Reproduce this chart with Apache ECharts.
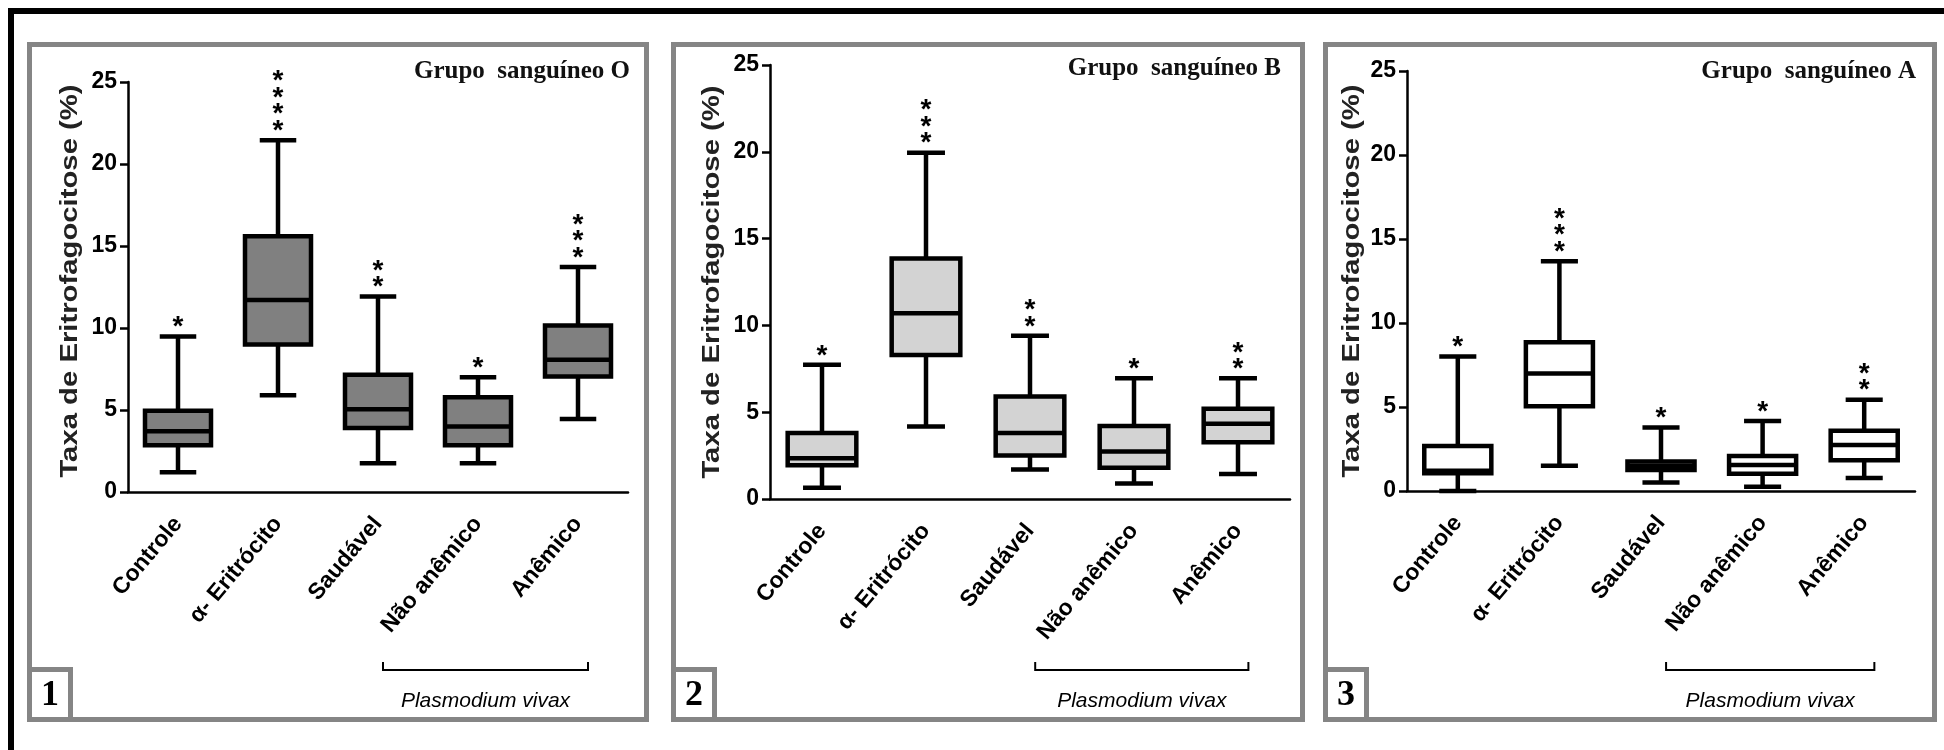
<!DOCTYPE html>
<html><head><meta charset="utf-8">
<script src="https://cdn.jsdelivr.net/npm/echarts@6/dist/echarts.min.js"></script>
<style>html,body{margin:0;padding:0;background:#fff}#c{width:1944px;height:750px}</style>
</head><body><div id="c"></div>
<script>
// ---------- data ----------
const categories = ['Controle', 'α- Eritrócito', 'Saudável', 'Não anêmico', 'Anêmico'];
const yTickValues = [0, 5, 10, 15, 20, 25];
const groupTitles = ['Grupo  sanguíneo O', 'Grupo  sanguíneo B', 'Grupo  sanguíneo A'];
const panelNumbers = ['1', '2', '3'];
const yAxisTitle = 'Taxa de Eritrofagocitose (%)';
const bracketLabel = 'Plasmodium vivax';

// Grupo sanguíneo O
const oLow    = [1.2, 5.9, 1.75, 1.75, 4.45];
const oQ1     = [2.85, 9.0, 3.9, 2.85, 7.05];
const oMedian = [3.7, 11.7, 5.05, 4.0, 8.07];
const oQ3     = [4.95, 15.6, 7.15, 5.78, 10.15];
const oHigh   = [9.48, 21.45, 11.92, 7.0, 13.72];
const oStars  = [1, 4, 2, 1, 3];

// Grupo sanguíneo B
const bLow    = [0.65, 4.17, 1.7, 0.9, 1.44];
const bQ1     = [1.95, 8.3, 2.5, 1.8, 3.27];
const bMedian = [2.35, 10.7, 3.8, 2.73, 4.33];
const bQ3     = [3.8, 13.85, 5.9, 4.2, 5.2];
const bHigh   = [7.73, 19.95, 9.4, 6.95, 6.95];
const bStars  = [1, 3, 2, 1, 2];

// Grupo sanguíneo A
const aLow    = [0, 1.5, 0.5, 0.25, 0.78];
const aQ1     = [1.05, 5.05, 1.25, 1.03, 1.83];
const aMedian = [1.2, 7.0, 1.5, 1.55, 2.74];
const aQ3     = [2.68, 8.85, 1.75, 2.09, 3.58];
const aHigh   = [8.0, 13.68, 3.78, 4.17, 5.43];
const aStars  = [1, 3, 1, 1, 2];

// ---------- layout ----------
const SANS = '"Liberation Sans", Arial, sans-serif';
const SERIF = '"Liberation Serif", "Times New Roman", serif';
const panels = [
  { grid: { left: 128, top: 82, width: 500, height: 410 }, frame: [27, 42, 622, 680], fill: '#808080',
    low: oLow, q1: oQ1, med: oMedian, q3: oQ3, high: oHigh, stars: oStars,
    title: groupTitles[0], titleX: 630, titleY: 72, ytX: 70, ytY: 281 },
  { grid: { left: 770, top: 65, width: 520, height: 434 }, frame: [671, 42, 634, 680], fill: '#d3d3d3',
    low: bLow, q1: bQ1, med: bMedian, q3: bQ3, high: bHigh, stars: bStars,
    title: groupTitles[1], titleX: 1281, titleY: 69, ytX: 712, ytY: 282 },
  { grid: { left: 1407, top: 71, width: 508, height: 420 }, frame: [1323, 42, 614, 680], fill: '#ffffff',
    low: aLow, q1: aQ1, med: aMedian, q3: aQ3, high: aHigh, stars: aStars,
    title: groupTitles[2], titleX: 1916, titleY: 72, ytX: 1352, ytY: 281 }
];

function boxRender(p) {
  return function (params, api) {
    const i = api.value(0);
    const band = api.size([1, 0])[0];
    const x = api.coord([i, 0])[0];
    const y = v => api.coord([i, v])[1];
    const bw = band * 0.66, cw = band * 0.365, lw = 4.5;
    const st = { stroke: '#000', lineWidth: lw };
    const ch = [
      { type: 'line', shape: { x1: x, y1: y(p.high[i]), x2: x, y2: y(p.q3[i]) }, style: st },
      { type: 'line', shape: { x1: x, y1: y(p.q1[i]), x2: x, y2: y(p.low[i]) }, style: st },
      { type: 'line', shape: { x1: x - cw / 2, y1: y(p.high[i]), x2: x + cw / 2, y2: y(p.high[i]) }, style: st },
      { type: 'line', shape: { x1: x - cw / 2, y1: y(p.low[i]), x2: x + cw / 2, y2: y(p.low[i]) }, style: st },
      { type: 'rect', shape: { x: x - bw / 2, y: y(p.q3[i]), width: bw, height: y(p.q1[i]) - y(p.q3[i]) },
        style: { fill: p.fill, stroke: '#000', lineWidth: lw } },
      { type: 'line', shape: { x1: x - bw / 2, y1: y(p.med[i]), x2: x + bw / 2, y2: y(p.med[i]) }, style: st }
    ];
    for (let k = 0; k < p.stars[i]; k++) {
      ch.push({ type: 'text', style: { text: '*', x: x, y: y(p.high[i]) - 15 - k * 16.5 + 6,
        fill: '#000', font: 'bold 28px ' + SANS, align: 'center', verticalAlign: 'middle' } });
    }
    return { type: 'group', children: ch };
  };
}

function bracketRender(params, api) {
  const band = api.size([1, 0])[0];
  const xa = api.coord([3, 0])[0] - band * 0.95;
  const xb = api.coord([4, 0])[0] + band * 0.1;
  const yb = 670;
  return { type: 'group', children: [
    { type: 'polyline', shape: { points: [[xa, yb - 8], [xa, yb], [xb, yb], [xb, yb - 8]] },
      style: { stroke: '#000', lineWidth: 2, fill: null } },
    { type: 'text', style: { text: bracketLabel, x: (xa + xb) / 2, y: 701, fill: '#000',
      font: 'italic 21px ' + SANS, align: 'center', verticalAlign: 'middle' } }
  ] };
}

const grids = [], xAxes = [], yAxes = [], series = [], graphics = [];
// outer black frame (top and left)
graphics.push({ type: 'rect', shape: { x: 8, y: 8, width: 1936, height: 6 }, style: { fill: '#000' } });
graphics.push({ type: 'rect', shape: { x: 8, y: 8, width: 6, height: 742 }, style: { fill: '#000' } });

panels.forEach((p, k) => {
  grids.push(p.grid);
  xAxes.push({
    type: 'category', gridIndex: k, data: categories,
    axisLine: { lineStyle: { color: '#000', width: 2.5 } },
    axisTick: { alignWithLabel: true, length: 11, lineStyle: { color: '#000', width: 2.5 } },
    axisLabel: { rotate: 50, interval: 0, margin: 28, fontSize: 23, fontWeight: 'bold', color: '#000', fontFamily: SANS },
    splitLine: { show: false }
  });
  yAxes.push({
    type: 'value', gridIndex: k, min: yTickValues[0], max: yTickValues[yTickValues.length - 1], interval: 5,
    axisLine: { show: true, lineStyle: { color: '#000', width: 2.5 } },
    axisTick: { show: true, length: 8, lineStyle: { color: '#000', width: 2.5 } },
    axisLabel: { margin: 11, fontSize: 23, fontWeight: 'bold', color: '#000', fontFamily: SANS },
    splitLine: { show: false }
  });
  series.push({
    type: 'custom', xAxisIndex: k, yAxisIndex: k, clip: false,
    data: categories.map((c, i) => [i, p.med[i]]),
    encode: { x: 0, y: 1 },
    renderItem: boxRender(p), z: 3
  });
  series.push({
    type: 'custom', xAxisIndex: k, yAxisIndex: k, clip: false,
    data: [[3, 0]], encode: { x: 0, y: 1 },
    renderItem: bracketRender, z: 3
  });
  const f = p.frame;
  graphics.push({ type: 'rect', shape: { x: f[0] + 2.5, y: f[1] + 2.5, width: f[2] - 5, height: f[3] - 5 },
    style: { fill: null, stroke: '#858585', lineWidth: 5 } });
  graphics.push({ type: 'rect', shape: { x: f[0] + 2.5, y: 669.5, width: 41, height: 50 },
    style: { fill: '#fff', stroke: '#858585', lineWidth: 5 } });
  graphics.push({ type: 'text', x: f[0] + 23, y: 696,
    style: { text: panelNumbers[k], font: 'bold 36px ' + SERIF, fill: '#000', align: 'center', verticalAlign: 'middle' } });
  graphics.push({ type: 'text', x: p.titleX, y: p.titleY,
    style: { text: p.title, font: 'bold 25px ' + SERIF, fill: '#111', align: 'right', verticalAlign: 'middle' } });
  graphics.push({ type: 'text', x: p.ytX, y: p.ytY, rotation: Math.PI / 2, scaleX: 1.22,
    style: { text: yAxisTitle, font: 'bold 24px ' + SANS, fill: '#222', align: 'center', verticalAlign: 'middle' } });
});

const chart = echarts.init(document.getElementById('c'), null, { renderer: 'canvas' });
chart.setOption({
  animation: false,
  backgroundColor: '#fff',
  grid: grids, xAxis: xAxes, yAxis: yAxes, series: series,
  graphic: { elements: graphics }
});
</script></body></html>
